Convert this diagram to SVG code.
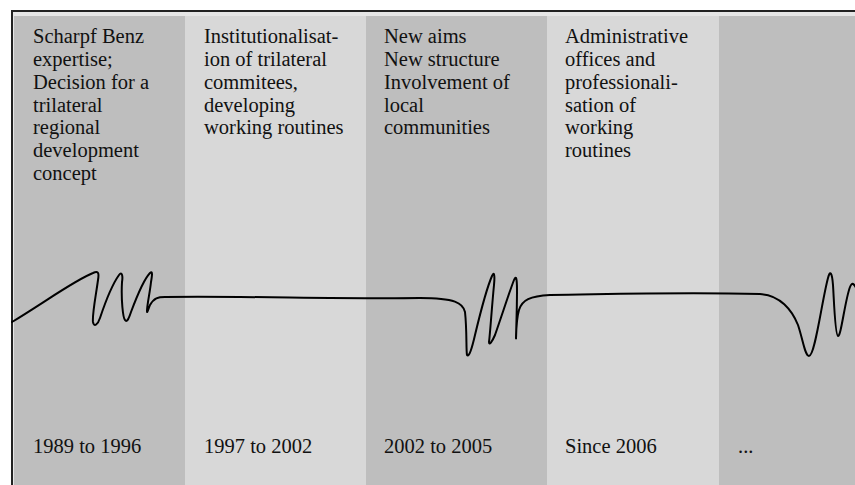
<svg xmlns="http://www.w3.org/2000/svg" width="855" height="485" viewBox="0 0 855 485">
<style>
.dark{fill:#bebebe}
.light{fill:#d8d8d8}
text{font-family:"Liberation Serif","Times New Roman",serif;font-size:20.5px;fill:#111}
.curve{fill:none;stroke:#000;stroke-width:2;stroke-linejoin:round;stroke-linecap:round}
</style>
<rect x="0" y="0" width="855" height="485" fill="#ffffff"/>
<rect x="12" y="11" width="843" height="474" fill="#e6e6e6"/>
<g id="col1">
<rect class="dark" x="14" y="16" width="171" height="469"/>
<text x="33" y="43">Scharpf Benz</text>
<text x="33" y="66">expertise;</text>
<text x="33" y="89">Decision for a</text>
<text x="33" y="112">trilateral</text>
<text x="33" y="134">regional</text>
<text x="33" y="157">development</text>
<text x="33" y="180">concept</text>
<text x="33" y="453">1989 to 1996</text>
</g>
<g id="col2">
<rect class="light" x="185" y="16" width="181" height="469"/>
<text x="204" y="43">Institutionalisat-</text>
<text x="204" y="66">ion of trilateral</text>
<text x="204" y="89">commitees,</text>
<text x="204" y="112">developing</text>
<text x="204" y="134">working routines</text>
<text x="204" y="453">1997 to 2002</text>
</g>
<g id="col3">
<rect class="dark" x="366" y="16" width="181" height="469"/>
<text x="384" y="43">New aims</text>
<text x="384" y="66">New structure</text>
<text x="384" y="89">Involvement of</text>
<text x="384" y="112">local</text>
<text x="384" y="134">communities</text>
<text x="384" y="453">2002 to 2005</text>
</g>
<g id="col4">
<rect class="light" x="547" y="16" width="172" height="469"/>
<text x="565" y="43">Administrative</text>
<text x="565" y="66">offices and</text>
<text x="565" y="89">professionali-</text>
<text x="565" y="112">sation of</text>
<text x="565" y="134">working</text>
<text x="565" y="157">routines</text>
<text x="565" y="453">Since 2006</text>
</g>
<g id="col5">
<rect class="dark" x="719" y="16" width="136" height="469"/>
<text x="738" y="453">...</text>
</g>
<line x1="12" y1="11" x2="855" y2="11" stroke="#222" stroke-width="2"/>
<line x1="12" y1="10" x2="12" y2="485" stroke="#222" stroke-width="2"/>
<g id="connectors">
<path class="curve" d="M 12 322 C 45 302, 75 280, 93 273 C 99 270, 99 274, 98 280 C 96 295, 92 315, 93 322 C 94 328, 98 324, 100 318 C 106 300, 114 282, 119 275 C 122 271, 123 276, 122 282 C 121 300, 123 318, 125 320 C 127 323, 129 318, 131 312 C 137 296, 145 278, 150 273 C 153 270, 152 276, 151 282 C 150 292, 147 305, 147 311 C 147 314, 148 310, 150 305 C 154 298, 158 297, 165 297 C 250 296, 330 299, 420 298 C 455 298, 463 303, 465 312 C 467 330, 466 350, 467 355 C 469 358, 472 348, 475 335 C 481 310, 488 285, 492 276 C 494 271, 495 275, 494 285 C 492 305, 490 335, 489 342 C 489 346, 492 342, 495 335 C 502 315, 510 290, 514 280 C 516 275, 517 278, 517 290 C 517 310, 516 335, 516 338 C 516 342, 516 320, 519 310 C 522 300, 530 296, 550 295 C 620 294, 680 292, 760 294 C 780 295, 792 310, 798 325 C 803 340, 805 356, 809 356 C 815 356, 822 300, 828 278 C 830 270, 832 272, 833 285 C 834 300, 835 335, 838 336 C 841 337, 845 300, 850 287 C 852 282, 854 283, 857 290"/>
</g>
</svg>
